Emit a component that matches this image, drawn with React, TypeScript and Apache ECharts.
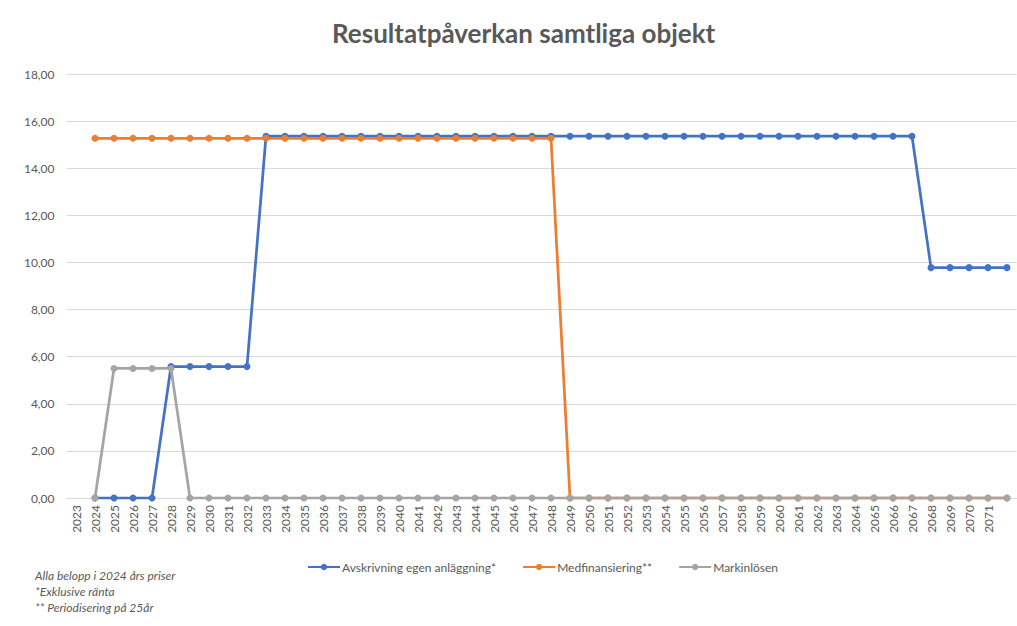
import React, { useEffect, useRef } from "react";
import * as echarts from "echarts";

const years: string[] = [
  "2023","2024","2025","2026","2027","2028","2029","2030","2031","2032",
  "2033","2034","2035","2036","2037","2038","2039","2040","2041","2042",
  "2043","2044","2045","2046","2047","2048","2049","2050","2051","2052",
  "2053","2054","2055","2056","2057","2058","2059","2060","2061","2062",
  "2063","2064","2065","2066","2067","2068","2069","2070","2071","",
];

// first slot (2023) has no value
const avskrivning: (number | null)[] = [
  null, 0, 0, 0, 0, 5.58, 5.58, 5.58, 5.58, 5.58,
  15.36, 15.36, 15.36, 15.36, 15.36, 15.36, 15.36, 15.36, 15.36, 15.36,
  15.36, 15.36, 15.36, 15.36, 15.36, 15.36, 15.36, 15.36, 15.36, 15.36,
  15.36, 15.36, 15.36, 15.36, 15.36, 15.36, 15.36, 15.36, 15.36, 15.36,
  15.36, 15.36, 15.36, 15.36, 15.36, 9.78, 9.78, 9.78, 9.78, 9.78,
];

const medfinansiering: (number | null)[] = [
  null, 15.27, 15.27, 15.27, 15.27, 15.27, 15.27, 15.27, 15.27, 15.27,
  15.27, 15.27, 15.27, 15.27, 15.27, 15.27, 15.27, 15.27, 15.27, 15.27,
  15.27, 15.27, 15.27, 15.27, 15.27, 15.27, 0, 0, 0, 0,
  0, 0, 0, 0, 0, 0, 0, 0, 0, 0,
  0, 0, 0, 0, 0, 0, 0, 0, 0, 0,
];

const markinlosen: (number | null)[] = [
  null, 0, 5.5, 5.5, 5.5, 5.5, 0, 0, 0, 0,
  0, 0, 0, 0, 0, 0, 0, 0, 0, 0,
  0, 0, 0, 0, 0, 0, 0, 0, 0, 0,
  0, 0, 0, 0, 0, 0, 0, 0, 0, 0,
  0, 0, 0, 0, 0, 0, 0, 0, 0, 0,
];

const seriesNames = ["Avskrivning egen anläggning*", "Medfinansiering**", "Markinlösen"];
const colors = ["#4472C4", "#ED7D31", "#A5A5A5"];
const footnotes = ["Alla belopp i 2024 års priser", "*Exklusive ränta", "** Periodisering på 25år"];

export default function App() {
  const ref = useRef<HTMLDivElement>(null);
  useEffect(() => {
    if (!ref.current) return;
    const chart = echarts.init(ref.current, undefined, { renderer: "svg" });
    const font = "Lato, 'Open Sans', sans-serif";
    const data = [avskrivning, medfinansiering, markinlosen];
    chart.setOption({
      animation: false,
      backgroundColor: "#ffffff",
      title: {
        text: "Resultatpåverkan samtliga objekt",
        left: 327,
        top: 15,
        textStyle: { fontSize: 26, fontWeight: "bold", color: "#595959", fontFamily: font },
      },
      legend: {
        left: 302,
        top: 556,
        itemWidth: 32,
        itemHeight: 8,
        itemGap: 26,
        textStyle: { fontSize: 12, color: "#595959", fontFamily: font, padding: [0, 0, 0, -3] },
        data: seriesNames,
      },
      graphic: footnotes.map((t, i) => ({
        type: "text",
        left: 35,
        top: 569 + i * 16,
        style: { text: t, fontSize: 12, fontStyle: "italic", fill: "#595959", fontFamily: font },
      })),
      grid: { left: 66.5, right: 0.5, top: 74, bottom: 128, containLabel: false },
      xAxis: {
        type: "category",
        data: years,
        boundaryGap: true,
        axisLine: { show: true, lineStyle: { color: "#D9D9D9", width: 1 } },
        axisTick: { show: false },
        axisLabel: { interval: 0, rotate: 90, margin: 7, fontSize: 12, color: "#595959", fontFamily: font },
      },
      yAxis: {
        type: "value",
        min: 0,
        max: 18,
        interval: 2,
        axisLine: { show: false },
        axisTick: { show: false },
        splitLine: { lineStyle: { color: "#D9D9D9", width: 1 } },
        axisLabel: {
          margin: 12,
          fontSize: 12,
          color: "#595959",
          fontFamily: font,
          formatter: (v: number) => v.toFixed(2).replace(".", ","),
        },
      },
      series: seriesNames.map((name, i) => ({
        name,
        type: "line",
        data: data[i],
        color: colors[i],
        symbol: "circle",
        symbolSize: 7,
        showSymbol: true,
        lineStyle: { width: 2.75, color: colors[i] },
        itemStyle: { color: colors[i] },
      })),
    });
    return () => chart.dispose();
  }, []);
  return <div ref={ref} style={{ width: 1017, height: 626, position: "absolute", left: 0, top: 0 }} />;
}
